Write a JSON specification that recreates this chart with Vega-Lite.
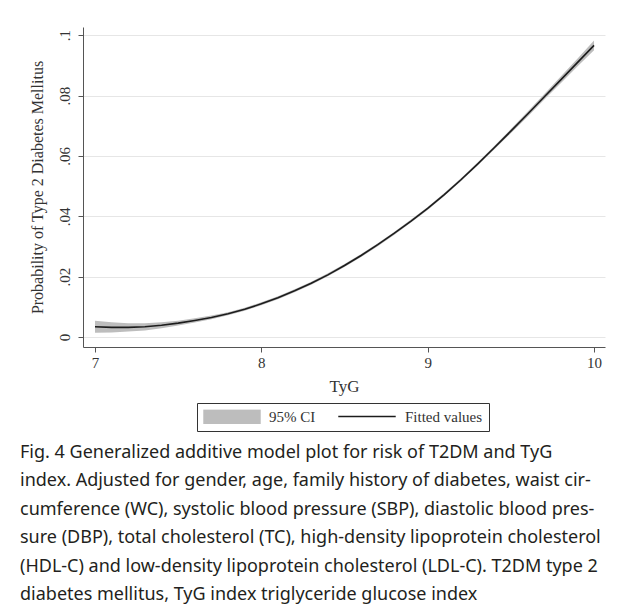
{
  "$schema": "https://vega.github.io/schema/vega-lite/v6.json",
  "width": 522,
  "height": 320,
  "autosize": "none",
  "padding": {"left": 83, "top": 27, "right": 19, "bottom": 258},
  "background": "white",
  "data": {
    "values": [
      {"TyG": 7.0, "fit": 0.0034, "lo": 0.0014, "hi": 0.0054},
      {"TyG": 7.1, "fit": 0.0032, "lo": 0.0015, "hi": 0.0049},
      {"TyG": 7.2, "fit": 0.0032, "lo": 0.0018, "hi": 0.0046},
      {"TyG": 7.3, "fit": 0.0034, "lo": 0.0022, "hi": 0.0046},
      {"TyG": 7.4, "fit": 0.0039, "lo": 0.0029, "hi": 0.0049},
      {"TyG": 7.5, "fit": 0.0046, "lo": 0.0038, "hi": 0.0054},
      {"TyG": 7.6, "fit": 0.0055, "lo": 0.0048, "hi": 0.0062},
      {"TyG": 7.7, "fit": 0.0065, "lo": 0.0059, "hi": 0.0071},
      {"TyG": 7.8, "fit": 0.0077, "lo": 0.0072, "hi": 0.0082},
      {"TyG": 7.9, "fit": 0.0092, "lo": 0.0087, "hi": 0.0097},
      {"TyG": 8.0, "fit": 0.0110, "lo": 0.0105, "hi": 0.0115},
      {"TyG": 8.1, "fit": 0.0130, "lo": 0.0125, "hi": 0.0135},
      {"TyG": 8.2, "fit": 0.0153, "lo": 0.0148, "hi": 0.0158},
      {"TyG": 8.3, "fit": 0.0178, "lo": 0.0173, "hi": 0.0183},
      {"TyG": 8.4, "fit": 0.0206, "lo": 0.0201, "hi": 0.0211},
      {"TyG": 8.5, "fit": 0.0237, "lo": 0.0232, "hi": 0.0242},
      {"TyG": 8.6, "fit": 0.0270, "lo": 0.0265, "hi": 0.0275},
      {"TyG": 8.7, "fit": 0.0306, "lo": 0.0301, "hi": 0.0311},
      {"TyG": 8.8, "fit": 0.0344, "lo": 0.0339, "hi": 0.0349},
      {"TyG": 8.9, "fit": 0.0384, "lo": 0.0379, "hi": 0.0389},
      {"TyG": 9.0, "fit": 0.0426, "lo": 0.0421, "hi": 0.0431},
      {"TyG": 9.1, "fit": 0.0472, "lo": 0.0467, "hi": 0.0477},
      {"TyG": 9.2, "fit": 0.0521, "lo": 0.0516, "hi": 0.0526},
      {"TyG": 9.3, "fit": 0.0573, "lo": 0.0568, "hi": 0.0578},
      {"TyG": 9.4, "fit": 0.0627, "lo": 0.0621, "hi": 0.0633},
      {"TyG": 9.5, "fit": 0.0682, "lo": 0.0675, "hi": 0.0689},
      {"TyG": 9.6, "fit": 0.0738, "lo": 0.0730, "hi": 0.0746},
      {"TyG": 9.7, "fit": 0.0795, "lo": 0.0786, "hi": 0.0804},
      {"TyG": 9.8, "fit": 0.0852, "lo": 0.0841, "hi": 0.0863},
      {"TyG": 9.9, "fit": 0.0909, "lo": 0.0896, "hi": 0.0922},
      {"TyG": 10.0, "fit": 0.0966, "lo": 0.0950, "hi": 0.0982}
    ]
  },
  "title": {
    "text": [
      "Fig. 4  Generalized additive model plot for risk of T2DM and TyG",
      "index. Adjusted for gender, age, family history of diabetes, waist cir-",
      "cumference (WC), systolic blood pressure (SBP), diastolic blood pres-",
      "sure (DBP), total cholesterol (TC), high-density lipoprotein cholesterol",
      "(HDL-C) and low-density lipoprotein cholesterol (LDL-C). T2DM type 2",
      "diabetes mellitus, TyG index triglyceride glucose index"
    ],
    "orient": "bottom",
    "anchor": "start",
    "frame": "group",
    "align": "left",
    "dx": -63,
    "offset": 12,
    "font": "Noto Sans",
    "fontSize": 18,
    "fontWeight": "normal",
    "lineHeight": 28.5,
    "color": "#231f20"
  },
  "config": {
    "view": {"stroke": null},
    "line": {"strokeWidth": 1.6},
    "axis": {
      "labelFont": "Liberation Serif",
      "titleFont": "Liberation Serif",
      "labelColor": "#333333",
      "titleColor": "#333333",
      "titleFontWeight": "normal",
      "domainColor": "#555555",
      "tickColor": "#555555",
      "tickSize": 5,
      "labelFontSize": 15,
      "titleFontSize": 17
    },
    "legend": {
      "title": null,
      "orient": "none",
      "legendY": 376,
      "direction": "horizontal",
      "symbolSize": 3300,
      "clipHeight": 15,
      "labelFont": "Liberation Serif",
      "labelFontSize": 15,
      "labelColor": "#333333",
      "labelOffset": 8,
      "columnPadding": 23,
      "padding": 6,
      "symbolOpacity": 1
    }
  },
  "encoding": {
    "x": {
      "field": "TyG",
      "type": "quantitative",
      "scale": {"domain": [6.928, 10.066], "nice": false, "zero": false},
      "axis": {
        "title": "TyG",
        "values": [7, 8, 9, 10],
        "grid": false,
        "labelPadding": 3,
        "titlePadding": 8
      }
    }
  },
  "layer": [
    {
      "mark": {"type": "area", "opacity": 1},
      "encoding": {
        "y": {
          "field": "lo",
          "type": "quantitative",
          "scale": {"domain": [-0.0033, 0.1027], "nice": false, "zero": false},
          "axis": {
            "title": "Probability of Type 2 Diabetes Mellitus",
            "values": [0, 0.02, 0.04, 0.06, 0.08, 0.1],
            "labelExpr": "datum.value == 0 ? '0' : replace(format(datum.value, '.2~f'), '0.', '.')",
            "labelAngle": -90,
            "labelAlign": "center",
            "labelBaseline": "bottom",
            "labelPadding": 6,
            "grid": true,
            "gridColor": "#e6e6e6",
            "titleFontSize": 16,
            "titlePadding": 12
          }
        },
        "y2": {"field": "hi"},
        "fill": {
          "datum": "95% CI",
          "type": "nominal",
          "scale": {"domain": ["95% CI", "Fitted values"], "range": ["#bdbdbd", "rgba(0,0,0,0)"]},
          "legend": {
            "legendX": 114,
            "symbolType": "M-1,-0.25H1V0.25H-1Z",
            "symbolStrokeWidth": 0,
            "strokeColor": "#333333"
          }
        }
      }
    },
    {
      "mark": {"type": "line"},
      "encoding": {
        "y": {"field": "fit", "type": "quantitative"},
        "stroke": {
          "datum": "Fitted values",
          "type": "nominal",
          "scale": {"domain": ["Fitted values"], "range": ["#1c1c1c"]},
          "legend": {
            "legendX": 248,
            "symbolType": "stroke",
            "symbolStrokeWidth": 1.5,
            "labelColor": "rgba(0,0,0,0)"
          }
        }
      }
    }
  ]
}
